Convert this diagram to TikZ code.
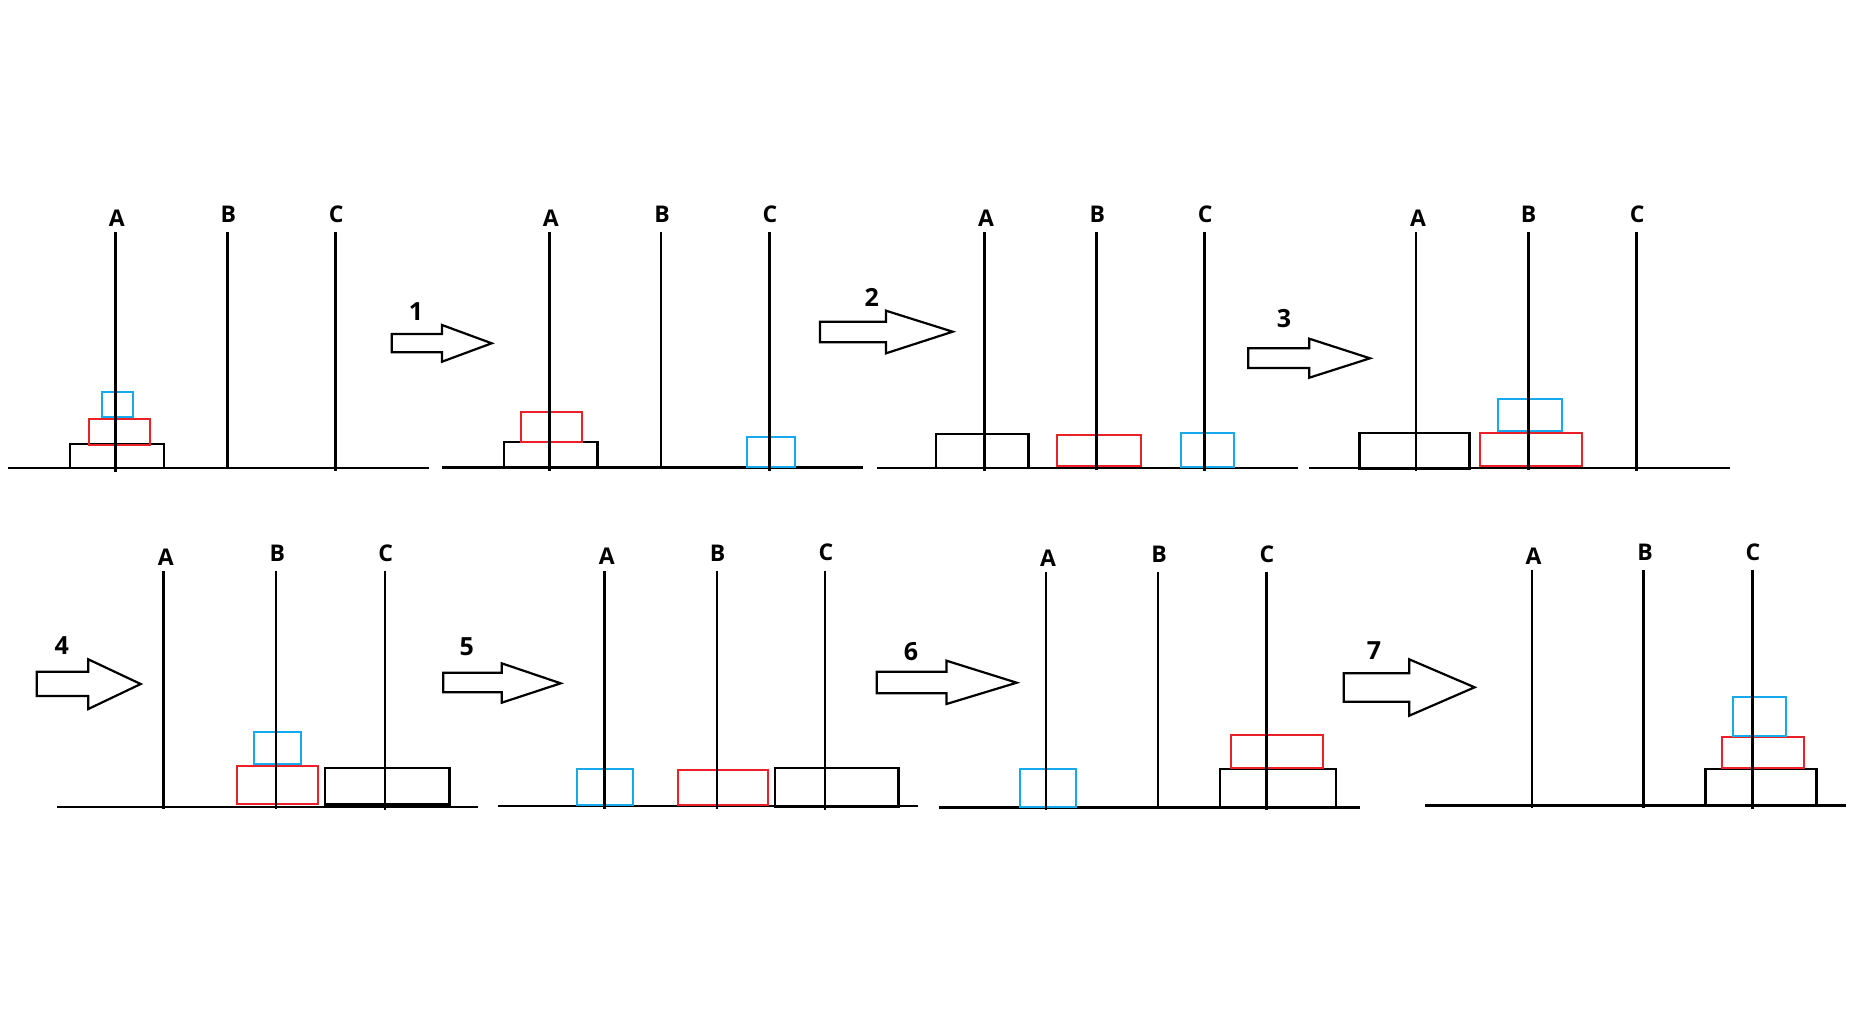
\documentclass[tikz,border=0pt]{standalone}
\usepackage{fontspec}
\setmainfont{Open Sans}
\definecolor{diskred}{RGB}{236,32,40}
\definecolor{diskblue}{RGB}{20,170,235}
\begin{document}
\begin{tikzpicture}[x=1pt,y=-1pt,
  base/.style={line width=2.4pt,black},
  peg/.style={line width=2.6pt,black},
  bigdisk/.style={line width=2.4pt,draw=black},
  middisk/.style={line width=2.2pt,draw=diskred},
  smalldisk/.style={line width=2.2pt,draw=diskblue},
  pegname/.style={anchor=base,inner sep=0pt,font=\fontsize{23}{23}\selectfont\bfseries},
  stepnum/.style={anchor=base,inner sep=0pt,font=\fontsize{25}{25}\selectfont\bfseries},
  movearrow/.style={line width=2.2pt,draw=black,fill=white,line join=miter}]
\useasboundingbox[fill=white] (0,0) rectangle (1870,1010);

% ---------- Panel 1 ----------
\draw[base] (8,467.7) -- (429,467.7);
\draw[bigdisk] (70,444) rectangle (163.7,468);
\draw[middisk] (88.7,419) rectangle (149.7,445);
\draw[smalldisk] (102,392) rectangle (133,417);
\draw[peg] (115.5,232.3) -- (115.5,471.5);
\draw[peg] (227.7,232.3) -- (227.7,469);
\draw[peg] (335.7,232.3) -- (335.7,471);
\node[pegname] (p1a) at (116.7,226) {A};
\node[pegname] (p1b) at (228.3,222.7) {B};
\node[pegname] (p1c) at (336.3,222.3) {C};

% arrow 1
\node[stepnum] (n1) at (416,320.7) {1};
\draw[movearrow] (391.7,334) -- (442,334) -- (442,325) -- (491.7,343.3) -- (442,361.7) -- (442,352.3) -- (391.7,352.3) -- cycle;

% ---------- Panel 2 ----------
\draw[base] (442.3,467.3) -- (862.7,467.3);
\draw[bigdisk] (504,442) rectangle (597.3,467.3);
\draw[middisk] (520.7,412.3) rectangle (582.3,442);
\draw[smalldisk] (747,436.7) rectangle (795,467.3);
\draw[peg] (549.3,231.7) -- (549.3,470.5);
\draw[peg] (661,231.7) -- (661,469);
\draw[peg] (769.3,231.7) -- (769.3,470.5);
\node[pegname] (p2a) at (550.7,226) {A};
\node[pegname] (p2b) at (662,222.7) {B};
\node[pegname] (p2c) at (770,222) {C};

% arrow 2
\node[stepnum] (n2) at (871.7,306.7) {2};
\draw[movearrow] (820,321.7) -- (886,321.7) -- (886,310.7) -- (952.7,331.7) -- (886,353.3) -- (886,342.3) -- (820,342.3) -- cycle;

% ---------- Panel 3 ----------
\draw[base] (877.3,467.7) -- (1297.7,467.7);
\draw[bigdisk] (936,434) rectangle (1028.3,467.7);
\draw[middisk] (1057,435.3) rectangle (1141,466.3);
\draw[smalldisk] (1180.7,433.3) rectangle (1234.3,467);
\draw[peg] (984.3,232.3) -- (984.3,471);
\draw[peg] (1096.3,232.3) -- (1096.3,469.5);
\draw[peg] (1204.3,232.3) -- (1204.3,471);
\node[pegname] (p3a) at (986,226.7) {A};
\node[pegname] (p3b) at (1097.3,222.7) {B};
\node[pegname] (p3c) at (1205.3,222.7) {C};

% arrow 3
\node[stepnum] (n3) at (1284,327.3) {3};
\draw[movearrow] (1248.3,348.3) -- (1309.3,348.3) -- (1309.3,338.7) -- (1370,358.3) -- (1309.3,377.7) -- (1309.3,368) -- (1248.3,368) -- cycle;

% ---------- Panel 4 ----------
\draw[base] (1309.3,467.7) -- (1730,467.7);
\draw[bigdisk] (1359.3,432.7) rectangle (1469.3,468.3);
\draw[middisk] (1479.7,432.7) rectangle (1581.7,466.3);
\draw[smalldisk] (1498.3,399.3) rectangle (1561.7,430.7);
\draw[peg] (1416,232.3) -- (1416,470.5);
\draw[peg] (1528.3,232.3) -- (1528.3,469.5);
\draw[peg] (1636.7,232.3) -- (1636.7,471);
\node[pegname] (p4a) at (1418,226.7) {A};
\node[pegname] (p4b) at (1528.7,222.7) {B};
\node[pegname] (p4c) at (1637.3,222.7) {C};

% arrow 4
\node[stepnum] (n4) at (61.7,654.3) {4};
\draw[movearrow] (36.7,671.7) -- (88.3,671.7) -- (88.3,659.3) -- (140.7,684) -- (88.3,709) -- (88.3,696) -- (36.7,696) -- cycle;

% ---------- Panel 5 ----------
\draw[base] (57.3,806.7) -- (477.7,806.7);
\draw[middisk] (236.7,766) rectangle (317.7,804.3);
\draw[smalldisk] (254.3,731.7) rectangle (301,764.3);
\draw[bigdisk] (325,767.7) rectangle (449.3,804.3);
\draw[peg] (163.3,571) -- (163.3,808.5);
\draw[peg] (276,571) -- (276,808.5);
\draw[peg] (385,571) -- (385,810);
\node[pegname] (p5a) at (165.7,565) {A};
\node[pegname] (p5b) at (277.3,561.7) {B};
\node[pegname] (p5c) at (385.7,561) {C};

% arrow 5
\node[stepnum] (n5) at (466.7,655) {5};
\draw[movearrow] (443.3,672.7) -- (501.7,672.7) -- (501.7,663.3) -- (560.7,683.3) -- (501.7,702.7) -- (501.7,692.3) -- (443.3,692.3) -- cycle;

% ---------- Panel 6 ----------
\draw[base] (498.3,806) -- (918.3,806);
\draw[smalldisk] (577.3,769) rectangle (633,805);
\draw[middisk] (677.7,769.7) rectangle (767.7,804.7);
\draw[bigdisk] (775,767.7) rectangle (898.3,806.7);
\draw[peg] (604.3,570.7) -- (604.3,809);
\draw[peg] (717,570.7) -- (717,808.5);
\draw[peg] (825,570.7) -- (825,809.5);
\node[pegname] (p6a) at (606.7,564.3) {A};
\node[pegname] (p6b) at (717.7,561) {B};
\node[pegname] (p6c) at (826,560) {C};

% arrow 6
\node[stepnum] (n6) at (911,660) {6};
\draw[movearrow] (876.7,671.7) -- (946.5,671.7) -- (946.5,660.7) -- (1016.7,682.7) -- (946.5,704) -- (946.5,693.3) -- (876.7,693.3) -- cycle;

% ---------- Panel 7 ----------
\draw[base] (939,807.3) -- (1360,807.3);
\draw[smalldisk] (1020,769) rectangle (1076.3,806.7);
\draw[bigdisk] (1220,768.7) rectangle (1335.7,806.7);
\draw[middisk] (1230.7,735) rectangle (1323,768);
\draw[peg] (1046,571.7) -- (1046,809.5);
\draw[peg] (1158,571.7) -- (1158,809);
\draw[peg] (1266.7,571.7) -- (1266.7,810);
\node[pegname] (p7a) at (1048,566) {A};
\node[pegname] (p7b) at (1159,562.7) {B};
\node[pegname] (p7c) at (1267,562.3) {C};

% arrow 7
\node[stepnum] (n7) at (1374,659.3) {7};
\draw[movearrow] (1343.8,673.3) -- (1409.2,673.3) -- (1409.2,659.3) -- (1474.6,687.3) -- (1409.2,715.7) -- (1409.2,701.7) -- (1343.8,701.7) -- cycle;

% ---------- Panel 8 ----------
\draw[base] (1425.4,805.3) -- (1845.5,805.3);
\draw[bigdisk] (1705.4,769) rectangle (1816.3,804.7);
\draw[middisk] (1722.3,736.7) rectangle (1804.2,767.7);
\draw[smalldisk] (1732.9,696.7) rectangle (1786.3,735.7);
\draw[peg] (1531.8,570) -- (1531.8,808);
\draw[peg] (1643.7,570) -- (1643.7,807.5);
\draw[peg] (1752.2,570) -- (1752.2,809);
\node[pegname] (p8a) at (1533.5,564) {A};
\node[pegname] (p8b) at (1645.1,560.7) {B};
\node[pegname] (p8c) at (1752.9,560) {C};
\end{tikzpicture}
\end{document}
